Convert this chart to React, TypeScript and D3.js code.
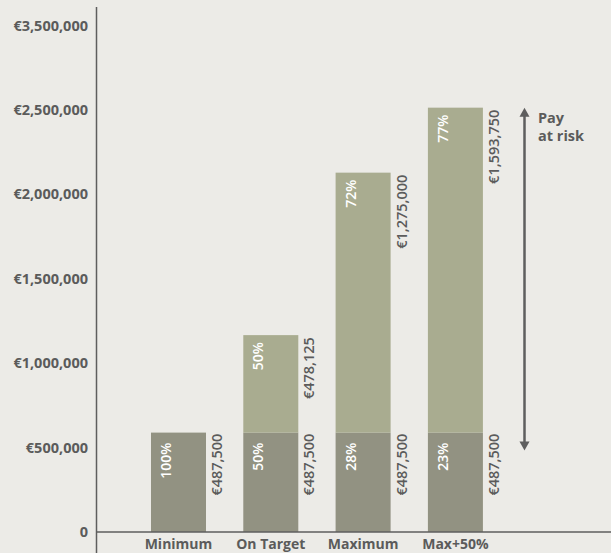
import React from "react";
import * as d3 from "d3";

const categories = ["Minimum", "On Target", "Maximum", "Max+50%"];
const baseValues = [487500, 487500, 487500, 487500];
const riskValues = [0, 478125, 1275000, 1593750];
const basePct = ["100%", "50%", "28%", "23%"];
const riskPct = ["", "50%", "72%", "77%"];
const baseLabels = ["€487,500", "€487,500", "€487,500", "€487,500"];
const riskLabels = ["", "€478,125", "€1,275,000", "€1,593,750"];
const tickLabels = ["0", "€500,000", "€1,000,000", "€1,500,000", "€2,000,000", "€2,500,000", "€3,500,000"];
const arrowFrom = 400000;
const arrowTo = 2081250;
const yMax = 2575000;

const W = 611;
const H = 553;
const BG = "#ECEBE7";
const DARK = "#929282";
const LIGHT = "#A9AC90";
const TEXT = "#5b5b5b";
const AXIS = "#5e5e5e";
const FONT = "'Open Sans', sans-serif";

export default function App() {
  const x = d3.scaleBand<string>().domain(categories).range([113.7, 520.2]).padding(0.404);
  const y = d3.scaleLinear().domain([0, yMax]).range([532, 7]);
  const tickY = d3.scalePoint<string>().domain(tickLabels).range([532, 25.5]);
  const bw = x.bandwidth();
  const arrowX = 524.5;

  return (
    <div style={{ position: "fixed", left: 0, top: 0, width: W, height: H, background: BG, overflow: "hidden" }}>
      <svg width={W} height={H} style={{ display: "block", fontFamily: FONT }}>
        <rect width={W} height={H} fill={BG} />
        {categories.map((c, i) => {
          const x0 = x(c)!;
          const b = baseValues[i];
          const r = riskValues[i];
          return (
            <g key={c}>
              <rect x={x0} y={y(b)} width={bw} height={y(0) - y(b)} fill={DARK} />
              {r > 0 && <rect x={x0} y={y(b + r)} width={bw} height={y(b) - y(b + r)} fill={LIGHT} />}
              <text transform={`translate(${x0 + 15},${y(b) + 10}) rotate(-90)`} textAnchor="end" dy="0.35em"
                fill="#ffffff" fontSize={14} fontWeight={600}>{basePct[i]}</text>
              <text transform={`translate(${x0 + bw + 11},${y(b) + 1}) rotate(-90)`} textAnchor="end" dy="0.35em"
                fill={TEXT} fontSize={14.5} fontWeight={600}>{baseLabels[i]}</text>
              {r > 0 && (
                <text transform={`translate(${x0 + 15},${y(b + r) + 7}) rotate(-90)`} textAnchor="end" dy="0.35em"
                  fill="#ffffff" fontSize={14} fontWeight={600}>{riskPct[i]}</text>
              )}
              {r > 0 && (
                <text transform={`translate(${x0 + bw + 11},${y(b + r) + 2}) rotate(-90)`} textAnchor="end" dy="0.35em"
                  fill={TEXT} fontSize={14.5} fontWeight={600}>{riskLabels[i]}</text>
              )}
              <text x={x0 + bw / 2} y={549} textAnchor="middle" fill={TEXT} fontSize={14} fontWeight={700}>{c}</text>
            </g>
          );
        })}
        {tickLabels.map((t) => (
          <text key={t} x={88} y={tickY(t)} dy="0.35em" textAnchor="end" fill={TEXT} fontSize={14.5} fontWeight={700}>{t}</text>
        ))}
        <line x1={96.5} x2={96.5} y1={7} y2={H} stroke={AXIS} strokeWidth={1.5} />
        <line x1={96} x2={W} y1={y(0)} y2={y(0)} stroke={AXIS} strokeWidth={1.5} />
        <line x1={arrowX} x2={arrowX} y1={y(arrowTo) + 6} y2={y(arrowFrom) - 6} stroke={AXIS} strokeWidth={2.5} />
        <path d={`M${arrowX},${y(arrowTo)} l-5,9 l10,0 z`} fill={AXIS} />
        <path d={`M${arrowX},${y(arrowFrom)} l-5,-9 l10,0 z`} fill={AXIS} />
        <text x={538} y={123} fill={TEXT} fontSize={14.5} fontWeight={700}>Pay</text>
        <text x={538} y={141} fill={TEXT} fontSize={14.5} fontWeight={700}>at risk</text>
      </svg>
    </div>
  );
}
